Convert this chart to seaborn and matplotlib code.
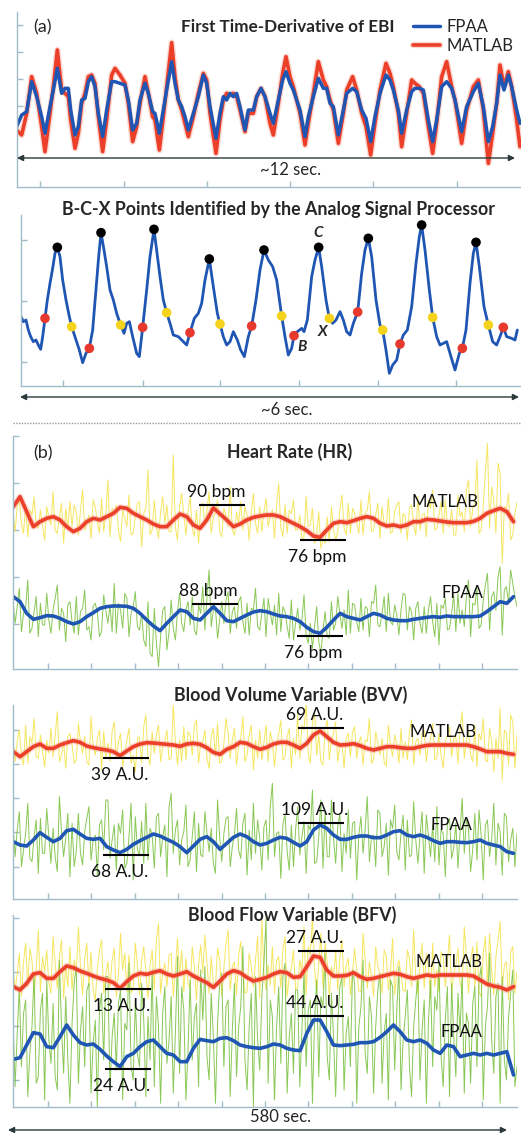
import numpy as np
import pandas as pd
import matplotlib
matplotlib.use("Agg")
import matplotlib.pyplot as plt
import matplotlib.patheffects as pe
import seaborn as sns

# ======================= DATA =======================
# (a) First time-derivative of EBI (sample index, amplitude a.u.)
ebi_sample = [50, 65, 80, 95, 110, 125, 135, 150, 160, 172,
              185, 195, 205, 212, 225, 235, 245, 255, 265, 275,
              285, 295, 308, 320, 335, 345, 360, 375, 385, 398,
              410, 420, 435, 445, 458, 465, 478, 490, 500, 515,
              525, 535, 545, 555, 565, 580, 595, 610, 620, 630,
              648, 660, 670, 680, 690, 700, 710, 720, 735, 745,
              760, 770, 783, 795, 810, 820, 835, 848, 858, 870,
              880, 890, 900, 915, 925, 940, 955, 970, 980, 990,
              1000, 1015, 1030, 1040, 1058, 1070, 1085, 1098, 1112, 1125,
              1140, 1158, 1170, 1180, 1195, 1205, 1220, 1235, 1245, 1258,
              1270, 1285, 1298, 1310, 1325, 1340, 1355, 1365, 1385, 1400,
              1420, 1435, 1450, 1465, 1478, 1490, 1500, 1512, 1525, 1535,
              1550, 1560]
ebi_fpaa = [-60, -25, -15, 75, 30, -30, -80, 0, 50, 115,
            40, 55, 55, -10, -85, -60, 20, 25, 75, 90,
            60, -20, -90, -10, 75, 75, 70, 65, 20, -70,
            -50, 20, 70, 40, -15, -20, -80, -10, 50, 135,
            70, 20, 0, -30, -70, -20, 30, 95, 70, 0,
            -95, -20, 30, 20, 40, 30, 40, 0, -70, -10,
            -10, 30, 55, 30, -20, -50, 20, 80, 105, 70,
            50, 20, -10, -90, -30, 30, 85, 55, 55, 10,
            0, -85, -10, 40, 55, 45, -10, -35, -105, -30,
            40, 95, 80, 50, -10, -80, -10, 45, 55, 55,
            50, -40, -105, -40, 60, 75, 55, 20, -75, 0,
            45, 70, 0, -105, -60, 10, 95, 50, 95, 60,
            -10, -50]
ebi_matlab = [-70, -85, -20, 90, 40, -60, -135, -20, 60, 170,
              50, 40, 30, -40, -125, -80, 10, 40, 90, 95,
              70, -30, -135, -40, 95, 115, 95, 70, 10, -105,
              -60, 10, 90, 40, -30, -40, -130, -30, 60, 192,
              90, 20, -10, -50, -90, -30, 40, 100, 80, -20,
              -140, -40, 20, 40, 35, 40, 30, -10, -75, -20,
              -20, 30, 55, 30, -50, -85, 10, 100, 150, 90,
              60, 20, -20, -115, -50, 40, 135, 80, 60, 20,
              -10, -110, -20, 50, 90, 50, -20, -60, -145, -50,
              50, 130, 100, 60, -20, -120, -20, 80, 70, 60,
              40, -60, -140, -50, 90, 135, 60, 20, -110, -10,
              60, 80, -10, -170, -80, 10, 125, 60, 105, 60,
              -40, -120]

# B-C-X trace (sample index, amplitude a.u.)
bcx_sample = [63, 70, 78, 85, 92, 100, 108, 115, 122, 128,
              135, 142, 150, 158, 165, 172, 180, 188, 198, 208,
              215, 225, 238, 248, 258, 268, 278, 288, 296, 303,
              312, 320, 330, 340, 350, 362, 372, 380, 388, 398,
              410, 418, 428, 440, 450, 462, 470, 480, 490, 500,
              510, 520, 535, 550, 560, 570, 583, 595, 605, 615,
              628, 640, 652, 660, 670, 680, 690, 700, 712, 722,
              733, 745, 755, 768, 780, 792, 805, 818, 830, 845,
              855, 865, 875, 882, 892, 905, 912, 922, 935, 945,
              956, 965, 978, 988, 998, 1008, 1020, 1030, 1040, 1050,
              1060, 1073, 1085, 1095, 1105, 1115, 1128, 1140, 1148, 1158,
              1168, 1178, 1190, 1200, 1210, 1222, 1235, 1248, 1258, 1265,
              1275, 1288, 1298, 1310, 1320, 1330, 1340, 1350, 1365, 1378,
              1387, 1398, 1410, 1420, 1428, 1438, 1452, 1465, 1478, 1490,
              1500, 1510, 1520, 1535, 1545, 1552]
bcx_value = [220, 205, 210, 180, 160, 145, 150, 135, 122, 160,
             215, 270, 320, 365, 410, 428, 400, 330, 270, 220,
             190, 160, 120, 82, 110, 125, 180, 300, 400, 472,
             420, 370, 300, 270, 230, 195, 170, 200, 205, 160,
             110, 100, 188, 300, 400, 482, 420, 340, 270, 232,
             200, 165, 160, 145, 135, 172, 215, 230, 260, 330,
             393, 310, 230, 198, 160, 135, 145, 175, 150, 120,
             100, 160, 192, 270, 360, 420, 390, 370, 330, 222,
             160, 105, 125, 163, 175, 185, 175, 210, 340, 390,
             428, 370, 270, 215, 200, 210, 235, 210, 175, 165,
             200, 234, 350, 420, 455, 400, 270, 195, 180, 120,
             50, 75, 90, 138, 165, 180, 250, 380, 460, 495,
             420, 300, 218, 160, 135, 140, 145, 110, 60, 110,
             125, 180, 320, 410, 443, 370, 250, 195, 145, 135,
             160, 188, 160, 155, 150, 180]
c_sample = [172, 303, 462, 628, 792, 956, 1105, 1265, 1428]
c_value = [428, 472, 482, 393, 420, 428, 455, 495, 443]
b_sample = [135, 268, 428, 570, 755, 882, 1073, 1200, 1387, 1510]
b_value = [215, 125, 188, 172, 192, 163, 234, 138, 125, 188]
x_sample = [215, 362, 500, 660, 845, 988, 1148, 1298, 1465]
x_value = [190, 195, 232, 198, 222, 215, 180, 218, 195]

# (b) 580 s recordings: smoothed trends (a.u. offsets from each track's baseline)
hr_matlab = [40, 70, 25, -20, -5, 5, 10, 0, -20, -35,
             -25, -5, 5, 0, 10, 20, 38, 35, 20, 10,
             0, -12, -20, -20, 0, 18, 10, -15, -25, 0,
             36, 18, 0, -20, -12, 0, 8, 12, 15, 15,
             10, 0, -10, -20, -32, -48, -52, -30, -10, -5,
             -8, -2, 5, 10, 5, -10, -18, -15, -20, -15,
             -5, -5, 2, 0, -3, -6, -8, -8, -8, -4,
             5, 20, 28, 35, 25, -5]
hr_fpaa = [60, 45, 10, -8, -3, 3, 2, -5, -15, -22,
           -15, 0, 12, 25, 30, 32, 32, 31, 25, 10,
           -10, -28, -42, -20, 0, 20, 15, -5, -10, 10,
           30, 10, -12, -15, -5, 5, 14, 18, 15, 8,
           2, 0, -5, -15, -32, -45, -50, -32, -10, 10,
           0, -5, -10, 0, 10, 5, -5, -10, -12, -12,
           -8, -5, -2, 0, -2, 2, 0, 0, 0, 0,
           2, 15, 30, 45, 40, 60]
bvv_matlab = [-10, -25, -10, 5, 13, 0, 0, 10, 17, 23,
              18, 7, 2, -2, -5, -10, -22, -8, 5, 13,
              17, 16, 14, 12, 10, 6, 13, 15, 12, 2,
              -12, -18, -3, 5, 18, 15, 5, -3, 3, 13,
              18, 18, 10, 0, 15, 40, 52, 35, 18, 10,
              11, 14, 8, 0, -5, 0, 5, 5, 2, 0,
              0, 5, 9, 10, 10, 10, 10, 10, 10, 5,
              -2, -10, -10, -10, -15, -18]
bvv_fpaa = [5, -5, -8, 10, 32, 18, 5, 15, 38, 42,
            28, 15, 12, 15, -10, -20, -28, -18, -3, 8,
            18, 28, 22, 12, 3, -10, -28, -8, 12, 20,
            5, -18, 0, 18, 28, 20, 5, -5, 0, 10,
            18, 15, 3, -8, 5, 40, 55, 45, 25, 12,
            12, 18, 22, 22, 17, 17, 25, 35, 38, 25,
            20, 25, 18, 8, 0, 5, 5, 3, 2, 5,
            10, 0, -5, -10, -25, -30]
bfv_matlab = [-20, -30, -10, 18, 22, 5, 5, 25, 42, 37,
              27, 20, 12, 5, 0, -8, -25, -5, 12, 20,
              17, 23, 28, 18, 12, 18, 25, 12, 2, -8,
              -22, -3, 18, 28, 22, 8, -3, 2, 8, 18,
              25, 22, 8, 10, 40, 72, 68, 30, 12, 12,
              14, 22, 10, 2, 5, 10, 15, 20, 17, 10,
              5, 10, 15, 12, 15, 15, 15, 15, 15, 12,
              0, -12, -18, -22, -30, -20]
bfv_fpaa = [-38, -33, 5, 42, 38, 0, -3, 30, 65, 35,
            12, 5, 8, -8, -28, -45, -60, -30, -20, 0,
            15, 20, 0, -20, -25, -45, -45, -5, 22, 18,
            15, 25, 27, 18, 5, 0, -3, -5, 0, 8,
            5, -5, -10, -12, 40, 80, 80, 45, 5, 3,
            5, 7, 12, 12, 15, 28, 45, 65, 45, 20,
            15, 20, 10, -10, -20, 5, 0, -30, -25, -20,
            -25, -20, -25, -20, -15, -85]

# raw beat-to-beat values (a.u. offsets from each track's baseline), 240 beats
hr_matlab_raw = [20, -35, 40, 60, -10, -40, 45, -50, 30, 15, 70, -20, -25, 30, -15,
                 -60, 40, 5, -15, 85, -30, -40, 10, 50, -70, 35, -25, 55, -20, 45,
                 25, -45, 30, 90, -30, -10, 15, -55, 60, 40, -5, -40, 65, -35, 20,
                 120, -50, 35, 20, 45, -30, -65, 30, 5, -20, 75, -45, -40, 10, 50,
                 55, -80, 20, 35, 150, -45, -30, 60, -20, -55, 25, 70, -10, 45, -35,
                 -35, 195, -20, -60, 40, 80, 15, -45, 25, 70, -25, -50, 30, -70, 45,
                 50, -15, 30, 85, -40, 10, 20, 60, -35, -50, 35, 15, -20, 100, -30,
                 -45, 25, -10, 55, -30, 40, 15, -60, 20, 80, -10, -40, 40, -35, 25,
                 65, -20, 10, 30, -55, 45, 110, -25, -50, 45, -40, 30, 20, 60, -30,
                 -30, 15, -60, -50, 70, -20, -15, 35, -70, -45, 25, -85, -55, -70, 10,
                 -65, 40, -30, -60, -35, 30, 75, -25, -45, 50, -40, 35, 20, -10, -40,
                 60, -45, 20, 30, 85, -35, -30, 15, 50, -55, 40, -10, -20, 65, -40,
                 -35, 25, 45, 55, -40, 20, 10, -60, 35, 45, -15, -45, 70, -30, 15,
                 20, -50, 60, 35, 90, -30, -25, 15, 55, -40, 60, -15, -20, 30, -45,
                 -45, 75, 10, 25, -35, 90, 120, -20, 35, 50, 180, -40, -30, 40, 140,
                 230, -25, 100, 60, -40, 170, 140, -130, 40, 35, 80, -60, -45, 20, 55]
hr_fpaa_raw = [50, -20, 30, 85, -45, 10, 30, 110, -50, -35, 15, 60, -60, 40, -25,
               -25, 70, -10, -50, 20, 55, 95, -40, 25, 10, -75, 35, 45, -15, -50,
               60, -55, 15, 25, 80, -40, -30, -70, 30, 40, 15, -60, -45, 65, 20,
               -20, 35, -45, 100, -50, 40, 20, -35, 70, 55, -60, 10, 30, 75, -30,
               -40, 10, -70, -90, 45, -110, -120, 25, -80, -150, -60, 20, 30, -100, -45,
               50, -35, -70, 15, 70, -20, -45, 20, 45, -25, 60, -40, -55, 35, 10,
               90, -40, 60, 140, -30, 20, 25, -65, -10, 45, -20, 50, 75, -50, 15,
               30, -35, 45, 60, -15, -50, 40, -55, 25, 20, 85, -30, -40, 10, 55,
               -60, 55, 10, -25, 35, -55, 70, -45, 30, 15, -30, -65, 50, -70, -20,
               25, -40, -10, 65, -55, -80, -20, -95, -30, 30, -75, -110, -40, 15, -60,
               -65, 45, -40, -20, 60, 10, -35, 20, -55, 80, -50, 40, 35, -15, -45,
               55, -40, 30, 25, -60, 45, 40, 95, -25, -30, 10, 60, -45, 70, -15,
               -25, 35, 5, -55, 20, 70, 65, -40, 30, 15, -70, 25, 45, -20, -50,
               30, -50, 20, 60, -15, -60, 40, -85, 35, 25, 55, -40, -35, 10, 65,
               -45, 70, -20, 20, -30, 60, 110, -60, 40, 35, 85, -35, -25, 50, 95,
               130, -40, 60, 75, 20, 120, 150, -55, 80, 90, 40, 140, 100, 60, 30]
bvv_matlab_raw = [30, -40, 20, 55, -20, -50, 70, -45, 35, 15, 90, -25, -30, 40, -10,
                  -55, 25, -15, 60, -25, 40, 110, -40, -20, 20, -60, 35, 45, 10, -45,
                  -35, 75, 20, -15, 35, -40, -50, 95, 10, -20, 30, 55, -65, 50, -25,
                  15, -40, 50, 80, -30, 20, 45, -55, -15, 25, 60, -45, -20, -70, 30,
                  35, -45, 65, 100, -25, -50, 50, -15, 40, 70, -40, 5, 20, 55, -35,
                  -30, 130, 20, -50, 25, -40, 65, -35, 50, 40, -20, 70, 85, -45, 15,
                  20, 55, -30, -60, 35, 60, -25, 75, -45, -40, 15, 90, 45, -30, 25,
                  60, -50, 10, 30, 95, -40, -20, 40, 70, -65, 25, -30, 55, -35, 20,
                  70, -40, 50, 20, -55, 10, 45, 85, -35, -25, 35, 60, -60, 30, -20,
                  100, -30, 70, 55, 140, -15, -45, 75, 110, -20, 40, -40, -50, 60, 85,
                  -35, 25, 45, 80, -40, 10, 15, -60, 30, 45, -25, 50, 65, -30, 20,
                  35, -50, 25, 20, 90, -45, -35, 50, 15, -20, 30, -40, -55, 70, 10,
                  -25, 40, 15, -45, 60, -30, 20, -35, 50, 85, -50, 20, 30, -20, 45,
                  55, -40, 10, 25, 75, -35, -30, 45, -20, -60, 20, 40, 65, -25, 30,
                  35, -45, 60, 110, -30, 25, 50, -20, -40, 70, -55, 45, 25, 90, -35,
                  -40, 60, 20, -70, 30, -30, 120, -95, 55, 45, -50, 100, 80, -60, 40]
bvv_fpaa_raw = [60, -40, 40, 95, -70, -20, 30, 120, -45, -55, 20, 70, -90, 75, -30,
                -30, 105, 20, -60, 45, -40, -85, 140, 35, -40, 15, 90, -100, 60, -70,
                -25, 90, -30, -65, 35, 75, 110, -50, 10, 25, -95, 55, 70, -20, 130,
                130, -45, 10, 55, -80, 60, 30, 100, -75, -60, 20, 120, -110, 80, -20,
                -35, 65, -60, 120, -50, 45, 25, -75, 80, 90, -40, 20, 55, -100, 110,
                150, -30, 40, 70, -65, 10, 35, 115, -70, -50, 20, 95, -85, 60, -35,
                -40, 95, 30, -25, 45, -60, -90, 130, 20, -55, 30, 75, 80, -70, -10,
                25, 105, -20, -45, 60, 90, -95, 40, -50, 120, -30, 70, 15, -80, 50,
                70, -50, 110, 180, -40, 30, 35, -105, 60, 85, -25, -80, 55, -70, 40,
                110, -35, 20, 65, -90, 55, 40, 160, -60, -55, 20, 130, -75, 95, -40,
                -40, 130, 15, -60, 50, 90, -85, 30, -30, 100, -45, 60, 65, -110, 25,
                80, -30, 45, 140, -55, 20, 25, -70, 100, 90, -40, -10, 60, -95, 70,
                45, 115, -25, -50, 30, 85, -80, 70, -40, -35, 125, 10, -60, 20, 95,
                -90, 85, 25, -40, 55, -55, 110, -65, 40, 30, -100, 60, 75, -45, -15,
                60, -75, 35, 135, -30, 70, 45, -85, -20, 90, -50, 100, 25, -110, 55,
                70, -40, 15, 120, -65, 60, 35, -95, 90, 80, -55, 10, 45, -70, 30]
bfv_matlab_raw = [40, -30, 20, 80, -50, 55, 110, -20, 95, 60, -45, 30, 150, -35, 70,
                  25, 90, -10, -40, 130, 50, -25, 70, 120, -55, 45, -20, 100, -30, 60,
                  20, 160, 40, -45, 65, 110, -20, 85, -30, -60, 35, 90, 120, -40, 15,
                  55, -25, 60, 95, -50, 15, 140, 30, 80, -35, 75, -40, -20, 110, 45,
                  -45, 60, 100, 25, -55, 45, 90, -30, 120, 170, -40, 20, 50, -20, 75,
                  80, -50, 30, 125, 15, 90, -35, 65, -10, -25, 100, 40, -60, 45, 105,
                  20, 135, 50, -40, 70, -15, -20, 95, 60, -50, 35, 110, 150, -30, 40,
                  55, -45, 75, 115, 25, -40, -35, 80, 40, -20, 60, 130, -55, 185, 20,
                  -30, 45, -15, 100, -40, 60, 70, -25, 95, 130, -50, 10, 35, 90, -30,
                  -20, 60, 25, 160, -45, 100, 75, 190, 30, -35, 50, 140, -25, 110, 55,
                  -50, 40, 10, 85, -30, 70, 120, -20, 45, 65, -45, 20, 95, 30, -35,
                  -35, 140, 60, -25, 55, 10, -50, 100, 40, 20, -40, 90, 75, -30, 25,
                  125, -45, 35, 60, 15, -30, -35, 90, 65, -20, 150, 5, -40, 50, 110,
                  -25, 80, 40, -55, 110, -20, 30, -35, 85, 70, -20, 55, 135, -45, 20,
                  45, 95, -10, -30, 160, 70, -40, 60, 100, -25, 115, -35, -50, 80, 130,
                  -20, 140, 30, -45, 70, 120, 175, -35, 45, 55, -60, 85, 100, -40, 25]
bfv_fpaa_raw = [90, -120, 40, 180, -60, 100, 140, -150, -20, 60, 220, -110, -90, 110, 160,
                -160, 200, 20, -50, 130, -90, -130, 260, 60, -80, 150, -40, -170, 70, 190,
                240, -110, 50, 120, -60, 170, 190, -140, 10, 80, -180, 110, 160, -40, 210,
                210, -130, 30, 100, -70, 130, 170, -160, 70, 50, 250, -60, -100, 140, -20,
                -60, 190, 80, -150, 90, -40, 230, -120, 150, 60, -170, 100, 180, -50, 20,
                150, -140, 40, 270, -80, 180, 110, -160, -10, 200, -40, 90, 130, -120, 230,
                80, 240, -30, -100, 160, 30, -170, 70, 190, 220, -60, 120, 140, -150, 50,
                190, -90, 60, 120, 300, -40, -130, 60, 160, -180, 210, 20, -70, 150, 250,
                385, -110, 140, 90, -160, 60, 180, -50, 210, 250, -140, 30, 100, -80, 170,
                170, -120, 50, 230, -60, 110, 140, -170, 80, 200, -90, 150, 120, 280, -30,
                -100, 160, 30, -150, 70, 180, 210, -130, 40, 90, -60, 230, 190, -170, 60,
                120, 260, -20, -80, 150, 90, -140, 60, 170, 220, -110, 40, 100, -160, 200,
                180, -70, 110, 240, -130, 20, 90, 170, -60, -150, 60, 140, 210, -100, 50,
                140, -170, 70, 200, -60, 150, 110, 250, -30, -120, 80, 180, -150, 190, 30,
                -90, 160, 40, 220, -140, 100, 70, -110, 130, 180, -60, 200, 240, -160, 60,
                120, 280, 20, -80, 150, 190, -170, 210, -40, -100, 90, 160, 230, -120, -60]

# annotations (label, time in s, level in track units)
hr_ann_label = ["90 bpm", "76 bpm", "88 bpm", "76 bpm"]
hr_ann_t = [241, 357, 232, 353]
hr_ann_level = [45, -60, 37, -58]
bvv_ann_label = ["69 A.U.", "39 A.U.", "109 A.U.", "68 A.U."]
bvv_ann_t = [354, 130, 354, 130]
bvv_ann_level = [60, -30, 60, -35]
bfv_ann_label = ["27 A.U.", "13 A.U.", "44 A.U.", "24 A.U."]
bfv_ann_t = [354, 132, 354, 132]
bfv_ann_level = [87, -28, 93, -68]
ann_track = ["MATLAB", "MATLAB", "FPAA", "FPAA"]
ann_side = ["above", "below", "above", "below"]

# ======================= STYLE =======================
sns.set_theme(style="white")
plt.rcParams["font.family"] = ["Lato", "DejaVu Sans"]

W, H = 521, 1133
fig = plt.figure(figsize=(W / 100, H / 100), dpi=100)
fig.patch.set_facecolor("white")

BLUE = "#1f55b3"
RED = "#ec3f2a"
YELLOW = "#f4e34e"
GREEN = "#7cc243"
SPINE = "#a3bccb"
glow = [pe.Stroke(linewidth=4.6, foreground="#f6a08e", alpha=0.4), pe.Normal()]


def add_ax(l, t, r, b):
    return fig.add_axes([l / W, 1 - b / H, (r - l) / W, (b - t) / H])


def style(ax, xt, yt):
    sns.despine(ax=ax)
    for s in ["left", "bottom"]:
        ax.spines[s].set_color(SPINE)
        ax.spines[s].set_linewidth(1.0)
    ax.set_xticks(xt)
    ax.set_yticks(yt)
    ax.tick_params(direction="in", length=4, width=1, color=SPINE,
                   labelleft=False, labelbottom=False, left=True, bottom=True)
    ax.set_xlabel("")
    ax.set_ylabel("")
    ax.patch.set_alpha(0)
    ax.grid(False)


# ---------------- panel (a) ----------------
axA = add_ax(17, 12, 521, 187)
dfA = pd.DataFrame({"sample": ebi_sample, "FPAA": ebi_fpaa, "MATLAB": ebi_matlab})
sns.lineplot(data=dfA, x="sample", y="MATLAB", ax=axA, color=RED, lw=2.6,
             label="MATLAB", path_effects=glow)
sns.lineplot(data=dfA, x="sample", y="FPAA", ax=axA, color=BLUE, lw=2.5, label="FPAA")
axA.set_xlim(51, 1563)
axA.set_ylim(-241, 284)
style(axA, [120, 372, 622, 870, 1120, 1370], [245, 163, 82, 2])
hd, lb = axA.get_legend_handles_labels()
axA.legend([hd[1], hd[0]], [lb[1], lb[0]], loc="upper left",
           bbox_to_anchor=(413 / W, 1 - 19 / H), bbox_transform=fig.transFigure,
           frameon=False, fontsize=12, handlelength=1.6, handletextpad=0.4,
           labelspacing=0.2, borderpad=0, borderaxespad=0)

# ---------------- B-C-X panel ----------------
axB = add_ax(21, 215, 521, 386)
dfB = pd.DataFrame({"sample": bcx_sample, "value": bcx_value})
sns.lineplot(data=dfB, x="sample", y="value", ax=axB, color=BLUE, lw=2.0)
for xs, ys, col in [(b_sample, b_value, "#e8392e"), (x_sample, x_value, "#f5d31c"),
                    (c_sample, c_value, "black")]:
    sns.scatterplot(x=xs, y=ys, ax=axB, color=col, s=48, edgecolor="none", zorder=5)
axB.text(954, 471, "C", fontsize=11, fontweight="bold", fontstyle="italic", ha="center", va="center")
axB.text(966, 174, "X", fontsize=11, fontweight="bold", fontstyle="italic", ha="center", va="center")
axB.text(906, 129, "B", fontsize=11, fontweight="bold", fontstyle="italic", ha="center", va="center")
axB.set_xlim(63, 1563)
axB.set_ylim(12, 525)
style(axB, [190, 428, 660, 898, 1135, 1368], [450, 267, 85])

# ---------------- (b) panels ----------------
t_trend = np.linspace(0.4, 576, len(hr_matlab))
t_raw = np.linspace(0, 580, len(hr_matlab_raw))
b_xticks = [40, 90, 140, 190, 240, 290, 340, 390, 440, 490, 540]

panels = [
    dict(box=(13, 436, 517, 669), ylim=(-747, -48), yt=[-48, -190, -330, -470, -612],
         base={"MATLAB": 300, "FPAA": 590},
         trend={"MATLAB": hr_matlab, "FPAA": hr_fpaa},
         raw={"MATLAB": hr_matlab_raw, "FPAA": hr_fpaa_raw},
         ann=(hr_ann_label, hr_ann_t, hr_ann_level),
         lab={"MATLAB": (497, 55), "FPAA": (517, 70)}),
    dict(box=(13, 705, 517, 899), ylim=(-657, -75), yt=[-150, -253, -355, -457, -560],
         base={"MATLAB": 205, "FPAA": 490},
         trend={"MATLAB": bvv_matlab, "FPAA": bvv_fpaa},
         raw={"MATLAB": bvv_matlab_raw, "FPAA": bvv_fpaa_raw},
         ann=(bvv_ann_label, bvv_ann_t, bvv_ann_level),
         lab={"MATLAB": (495, 50), "FPAA": (505, 55)}),
    dict(box=(13, 915, 517, 1107), ylim=(-621, -45), yt=[-55, -215, -377, -540],
         base={"MATLAB": 240, "FPAA": 440},
         trend={"MATLAB": bfv_matlab, "FPAA": bfv_fpaa},
         raw={"MATLAB": bfv_matlab_raw, "FPAA": bfv_fpaa_raw},
         ann=(bfv_ann_label, bfv_ann_t, bfv_ann_level),
         lab={"MATLAB": (502, 55), "FPAA": (516, 45)}),
]

for P in panels:
    ax = add_ax(*P["box"])
    base = P["base"]
    for trk, col in [("MATLAB", YELLOW), ("FPAA", GREEN)]:
        raw = np.array(P["raw"][trk], dtype=float) - base[trk]
        sns.lineplot(x=t_raw, y=raw, ax=ax, color=col, lw=0.7, alpha=0.9)
    for trk, col, eff in [("MATLAB", RED, glow), ("FPAA", BLUE, None)]:
        tr = np.array(P["trend"][trk], dtype=float) - base[trk]
        kw = dict(path_effects=eff) if eff else {}
        sns.lineplot(x=t_trend, y=tr, ax=ax, color=col, lw=2.6, **kw)
    labels, ts, levels = P["ann"]
    for lab, t, lev, trk, side in zip(labels, ts, levels, ann_track, ann_side):
        y = lev - base[trk]
        ax.hlines(y, t - 26.5, t + 26.5, color="black", lw=1.5, zorder=6)
        dy = 13 if side == "above" else -17
        ax.annotate(lab, (t, y), xytext=(-6, dy), textcoords="offset pixels",
                    ha="center", va="center", fontsize=12.5, color="#111111", zorder=7)
    for trk, (tx, lev) in P["lab"].items():
        ax.text(tx, lev - base[trk], trk, fontsize=12, ha="center", va="center",
                color="#111111", zorder=7)
    ax.set_xlim(0, 580)
    ax.set_ylim(*P["ylim"])
    style(ax, b_xticks, P["yt"])

# ---------------- overlay texts / arrows ----------------
ov = fig.add_axes([0, 0, 1, 1], zorder=20)
ov.set_xlim(0, W)
ov.set_ylim(H, 0)
ov.axis("off")
TS = 12.8
ov.text(43, 27, "(a)", fontsize=13, ha="center", va="center")
ov.text(288, 27, "First Time-Derivative of EBI", fontsize=12.3, fontweight="bold", ha="center", va="center")
ov.text(279, 210, "B-C-X Points Identified by the Analog Signal Processor", fontsize=TS,
        fontweight="bold", ha="center", va="center")
ov.text(43, 453, "(b)", fontsize=13, ha="center", va="center")
ov.text(290, 452, "Heart Rate (HR)", fontsize=TS, fontweight="bold", ha="center", va="center")
ov.text(291, 695, "Blood Volume Variable (BVV)", fontsize=TS, fontweight="bold", ha="center", va="center")
ov.text(292, 915, "Blood Flow Variable (BFV)", fontsize=TS, fontweight="bold", ha="center", va="center")

arrow_kw = dict(arrowstyle="<|-|>", mutation_scale=9, lw=1.0, color="#2b3a3a",
                shrinkA=0, shrinkB=0)
ov.annotate("", xy=(515, 158), xytext=(17, 158), arrowprops=arrow_kw)
ov.text(290, 170, "~12 sec.", fontsize=12, ha="center", va="center")
ov.annotate("", xy=(519, 397), xytext=(20, 397), arrowprops=arrow_kw)
ov.text(287, 410, "~6 sec.", fontsize=12, ha="center", va="center")
ov.plot([13, 521], [423, 423], color="#9a9a9a", lw=1.0, ls=(0, (1, 1)))
ov.annotate("", xy=(507, 1130), xytext=(8, 1130), arrowprops=arrow_kw)
ov.text(281, 1117, "580 sec.", fontsize=12, ha="center", va="center")

fig.savefig("out.png", dpi=100, facecolor="white")
